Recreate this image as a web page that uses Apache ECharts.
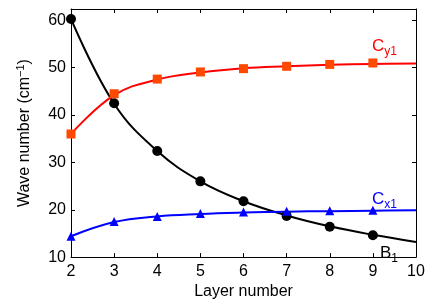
<!DOCTYPE html>
<html><head><meta charset="utf-8">
<script src="https://cdn.jsdelivr.net/npm/echarts@6/dist/echarts.min.js"></script>
<style>html,body{margin:0;padding:0;background:#fff}#c{width:436px;height:305px}</style>
</head><body><div id="c"></div>
<script>
// layer numbers
const layers = [2, 3, 4, 5, 6, 7, 8, 9];
const curveLayers = [2, 3, 4, 5, 6, 7, 8, 9, 10];
// measured points
const B1 = [60.3, 42.5, 32.4, 26.0, 21.8, 18.7, 16.4, 14.6];
const Cy1 = [36.0, 44.5, 47.6, 49.1, 49.8, 50.3, 50.7, 51.0];
const Cx1 = [14.4, 17.5, 18.6, 19.2, 19.5, 19.7, 19.8, 19.9];
// fitted curves (incl. end at layer 10)
const B1fit = [60.3, 42.4, 32.4, 26.0, 21.8, 18.8, 16.5, 14.7, 13.2];
const Cy1fit = [36.0, 44.2, 47.5, 49.0, 49.9, 50.3, 50.6, 50.8, 50.9];
const Cx1fit = [14.4, 17.4, 18.6, 19.1, 19.4, 19.6, 19.7, 19.8, 19.9];
const xTicks = [2, 3, 4, 5, 6, 7, 8, 9, 10];
const yTicks = [10, 20, 30, 40, 50, 60];

const pairs = (xs, ys) => xs.map((x, i) => [x, ys[i]]);
const font = 'Liberation Sans, Arial, sans-serif';
const chart = echarts.init(document.getElementById('c'));
const axisLine = {show: true, onZero: false, lineStyle: {color: '#000', width: 1}};
chart.setOption({
  animation: false,
  textStyle: {fontFamily: font},
  grid: {left: 71, right: 20, top: 9, bottom: 43},
  xAxis: [{
    type: 'value', min: xTicks[0], max: xTicks[xTicks.length - 1], interval: 1,
    axisLine, axisTick: {inside: true, length: 4, lineStyle: {color: '#000'}},
    splitLine: {show: false},
    axisLabel: {color: '#000', fontSize: 16, fontFamily: font, margin: 6},
    name: 'Layer number', nameLocation: 'middle', nameGap: 26,
    nameTextStyle: {color: '#000', fontSize: 16, fontFamily: font}
  }, {
    type: 'value', position: 'top', min: 2, max: 10, interval: 1,
    axisLine, axisTick: {inside: true, length: 4, lineStyle: {color: '#000'}},
    axisLabel: {show: false}, splitLine: {show: false}
  }],
  yAxis: [{
    type: 'value', min: yTicks[0], max: 62.4, interval: 10,
    axisLine, axisTick: {inside: true, length: 4, lineStyle: {color: '#000'}},
    splitLine: {show: false},
    axisLabel: {color: '#000', fontSize: 16, fontFamily: font, margin: 5, showMaxLabel: false,
      formatter: v => yTicks.includes(v) ? String(v) : ''},
    name: '{n|Wave number (cm}{s|−1}{n|)}', nameLocation: 'middle', nameGap: 36,
    nameTextStyle: {color: '#000', fontFamily: font,
      rich: {n: {fontSize: 16, fontFamily: font, color: '#000'},
             s: {fontSize: 11, fontFamily: font, color: '#000', padding: [0, 0, 9, 0]}}}
  }, {
    type: 'value', position: 'right', min: 10, max: 62.4, interval: 10,
    axisLine, axisTick: {inside: true, length: 4, lineStyle: {color: '#000'}},
    axisLabel: {show: false}, splitLine: {show: false}
  }],
  series: [
    {type: 'line', data: pairs(curveLayers, B1fit), smooth: 0.4, showSymbol: false,
     lineStyle: {color: '#000', width: 2}, z: 2},
    {type: 'line', data: pairs(curveLayers, Cy1fit), smooth: 0.4, showSymbol: false,
     lineStyle: {color: '#ff0000', width: 2}, z: 2},
    {type: 'line', data: pairs(curveLayers, Cx1fit), smooth: 0.4, showSymbol: false,
     lineStyle: {color: '#0000ff', width: 2}, z: 2},
    {type: 'scatter', data: pairs(layers, B1), symbol: 'circle', symbolSize: 10,
     itemStyle: {color: '#000', opacity: 1}, z: 3},
    {type: 'scatter', data: pairs(layers, Cy1), symbol: 'rect', symbolSize: 9,
     itemStyle: {color: '#ff4800', opacity: 1}, z: 3},
    {type: 'scatter', data: pairs(layers, Cx1), symbol: 'triangle', symbolSize: 9,
     itemStyle: {color: '#0000ff', opacity: 1}, z: 3}
  ],
  graphic: [
    {type: 'text', left: 372, top: 38, style: {text: '{c|C}{s|y1}', fill: '#ff0000',
      rich: {c: {fontSize: 17, fontFamily: font, fill: '#ff0000'},
             s: {fontSize: 12, fontFamily: font, fill: '#ff0000', padding: [10, 0, 0, 0]}}}},
    {type: 'text', left: 372, top: 191, style: {text: '{c|C}{s|x1}', fill: '#0000ff',
      rich: {c: {fontSize: 17, fontFamily: font, fill: '#0000ff'},
             s: {fontSize: 12, fontFamily: font, fill: '#0000ff', padding: [10, 0, 0, 0]}}}},
    {type: 'text', left: 380, top: 245, style: {text: '{c|B}{s|1}', fill: '#000',
      rich: {c: {fontSize: 17, fontFamily: font, fill: '#000'},
             s: {fontSize: 12, fontFamily: font, fill: '#000', padding: [10, 0, 0, 0]}}}}
  ]
});
</script></body></html>
